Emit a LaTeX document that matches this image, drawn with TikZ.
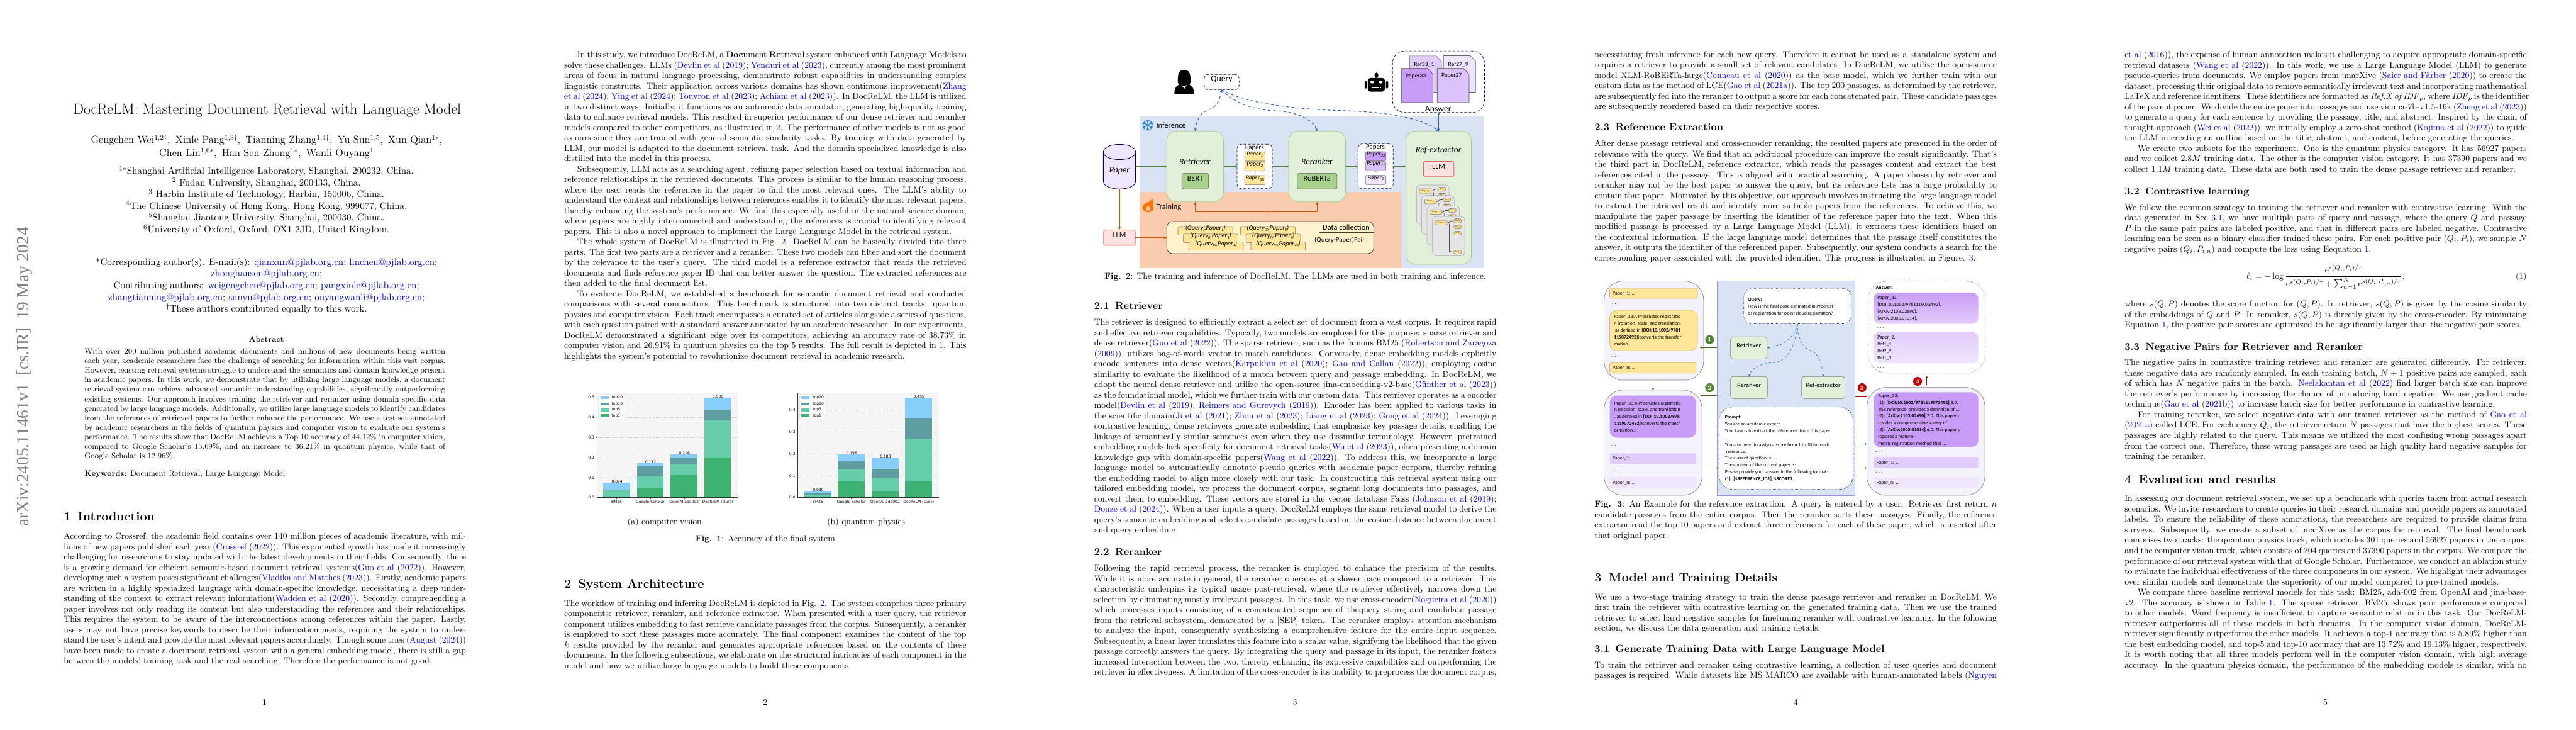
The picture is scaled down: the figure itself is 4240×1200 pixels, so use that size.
\documentclass[tikz,border=0pt]{standalone}
\usepackage{fontspec}
\usepackage{amsmath}
\usetikzlibrary{arrows.meta,fit,calc}
\newfontfamily\figfont{Carlito}
\newfontfamily\stampfont{Liberation Serif}
\newfontfamily\plotfont{DejaVu Sans}
\definecolor{lnk}{rgb}{0,0,.85}
\definecolor{infbg}{HTML}{DAE3F3}
\definecolor{trbg}{HTML}{F8CBAD}
\definecolor{gbox}{HTML}{E2F0D9}
\definecolor{gedge}{HTML}{A9D18E}
\definecolor{gdark}{HTML}{548235}
\definecolor{orng}{HTML}{C55A11}
\definecolor{bluea}{HTML}{2F5FB3}
\definecolor{yel}{HTML}{FFE699}
\definecolor{yelp}{HTML}{FFF2CC}
\definecolor{pk}{HTML}{FFE1E1}
\definecolor{pkedge}{HTML}{E06666}
\definecolor{pa}{HTML}{C99DF7}
\definecolor{pb}{HTML}{D9C3FA}
\definecolor{pc}{HTML}{E2CCFB}
\definecolor{pd}{HTML}{EFE6FD}
\definecolor{panel}{HTML}{F4F2FA}
\definecolor{cA}{HTML}{87CEFA}
\definecolor{cB}{HTML}{5F9EA0}
\definecolor{cC}{HTML}{66CDAA}
\definecolor{cD}{HTML}{3CB371}
\definecolor{plotbg}{HTML}{F5F5F5}
\definecolor{rd}{HTML}{C00000}
\hbadness=10000 \hfuzz=50pt \overfullrule=0pt
\newcommand\cb[1]{\textcolor{lnk}{#1}}
\newcommand\bodyfont{\fontsize{10}{12.03}\selectfont\hsize=466.2pt}
\newcommand\absfont{\fontsize{9}{11}\selectfont\hsize=418.3pt}
\newcommand\capfont{\fontsize{10}{12.03}\selectfont\hsize=466.2pt}
\newcommand\tjl[1]{\hbox to\hsize{#1}}
\newcommand\til[1]{\hbox to\hsize{\hskip15.2pt #1}}
\newcommand\tel[1]{\hbox{#1}}
\newcommand\tiel[1]{\hbox{\hskip15.2pt #1}}
\newcommand\tblk[5][\bodyfont]{\node[inner sep=0pt,outer sep=0pt,anchor=base west] (#2) at (#3,#4) {\vtop{#1\lineskiplimit=-\maxdimen #5}};}
\newcommand\ctr[5]{\node[inner sep=0pt,outer sep=0pt,anchor=base] (#1) at (#2,#3) {#4 #5};}
\newcommand\secf{\fontsize{14.4}{17}\selectfont\bfseries}
\newcommand\subf{\fontsize{12}{14}\selectfont\bfseries}
\newcommand\sect[4]{\node[inner sep=0pt,outer sep=0pt,anchor=base west] (#1) at (#2,#3) {\secf #4};}
\newcommand\snum[1]{\makebox[16.2pt][l]{#1}}
\newcommand\ssn[1]{\makebox[24.2pt][l]{#1}}
\newcommand\subs[4]{\node[inner sep=0pt,outer sep=0pt,anchor=base west] (#1) at (#2,#3) {\subf #4};}
% figure helpers
\newcommand\bx[7][]{\node[inner sep=0pt,outer sep=0pt,fit={(#3,#4)(#5,#6)},#1] (#2) {#7};}
\newcommand\ftblk[6]{\node[inner sep=0pt,outer sep=0pt,anchor=base west] (#1) at (#2,#3) {\vtop{\hsize=300pt\figfont\fontsize{#4}{#5}\selectfont\lineskiplimit=-\maxdimen #6}};}
\newcommand\pp[2][7]{{\figfont\itshape\fontsize{#1}{8}\selectfont Paper\raisebox{-1.2pt}{\fontsize{4.6}{5}\selectfont #2}}}
\newcommand\qq[2]{{\figfont\itshape\fontsize{7.6}{8}\selectfont (Query\raisebox{-1.2pt}{\fontsize{4.6}{5}\selectfont #1},Paper\raisebox{-1.2pt}{\fontsize{4.6}{5}\selectfont #2})}}
\newcommand\docsh[6]{\draw[draw=#6,fill=#5,line width=.5pt] (#1,#2) -- (#3-16,#2) -- (#3,#2+28) -- (#3,#4) -- (#1,#4) -- cycle;}
\tikzset{
 page/.style={x=0.7042pt,y=-0.7042pt},
 figA/.style={shift={(848,600)},x=0.38085pt,y=-0.2695pt},
 figB/.style={shift={(1696,0)},x=0.38085pt,y=-0.23473pt},
 figC/.style={shift={(2544,400)},x=0.38085pt,y=-0.23473pt},
 grn/.style={fill=gbox,draw=gedge,line width=.6pt,rounded corners=11pt},
 inner/.style={fill=gedge,draw=black!65,line width=.5pt,rounded corners=2pt},
 pinkb/.style={fill=pk,draw=pkedge,line width=.7pt,rounded corners=2pt},
 dashb/.style={fill=white,draw=black!70!blue,densely dashed,line width=.5pt,rounded corners=5pt},
 smallp/.style={draw=black!55,line width=.4pt,rounded corners=1.2pt},
 garrow/.style={draw=gdark,line width=1pt,-{Stealth[length=3pt,width=3pt]}},
 oarrow/.style={draw=orng,line width=.9pt,-{Stealth[length=4pt,width=3.4pt]}},
 bdash/.style={draw=bluea,dashed,line width=.8pt,-{Stealth[length=3pt,width=3pt]}},
 plab/.style={inner sep=0pt,font=\plotfont\fontsize{4.4}{5}\selectfont},
 pan/.style={fill=panel,draw=black!50,line width=.5pt,rounded corners=22pt},
 tx/.style={inner sep=0pt,outer sep=0pt,text=black},
 numc/.style={circle,inner sep=0pt,minimum size=10.3pt,text=white,font=\fontsize{7}{8}\selectfont\bfseries},
}
\begin{document}
\begin{tikzpicture}[page]
\useasboundingbox (0,0) rectangle (4240,1200);
\fill[white] (0,0) rectangle (4240,1200);

%%%%%%%%%%%%%%%%%%%%%%  PAGE 1
\node[inner sep=0pt,anchor=base west,rotate=90,text=black!50] (stamp) at (47.6,866.7) {\stampfont\fontsize{20}{24}\selectfont arXiv:2405.11461v1\hskip10pt [cs.IR]\hskip10pt 19 May 2024};
\ctr{title}{436}{187.8}{\fontsize{17.28}{20}\selectfont}{DocReLM: Mastering Document Retrieval with Language Model}
\ctr{auth1}{436}{236}{\fontsize{12}{14}\selectfont}{Gengchen Wei$^{1,2\dagger}$,\hskip6pt Xinle Pang$^{1,3\dagger}$,\hskip6pt Tianning Zhang$^{1,4\dagger}$,\hskip6pt Yu Sun$^{1,5}$,\hskip6pt Xun Qian$^{1*}$,}
\ctr{auth2}{436}{257.4}{\fontsize{12}{14}\selectfont}{Chen Lin$^{1,6*}$,\hskip6pt Han-Sen Zhong$^{1*}$,\hskip6pt Wanli Ouyang$^{1}$}
\ctr{af1}{436}{286.3}{\fontsize{10.95}{13}\selectfont}{$^{1*}$Shanghai Artificial Intelligence Laboratory, Shanghai, 200232, China.}
\ctr{af2}{436}{305.7}{\fontsize{10.95}{13}\selectfont}{$^{2}$ Fudan University, Shanghai, 200433, China.}
\ctr{af3}{436}{324.9}{\fontsize{10.95}{13}\selectfont}{$^{3}$ Harbin Institute of Technology, Harbin, 150006, China.}
\ctr{af4}{436}{344}{\fontsize{10.95}{13}\selectfont}{$^{4}$The Chinese University of Hong Kong, Hong Kong, 999077, China.}
\ctr{af5}{436}{363.2}{\fontsize{10.95}{13}\selectfont}{$^{5}$Shanghai Jiaotong University, Shanghai, 200030, China.}
\ctr{af6}{436}{382.6}{\fontsize{10.95}{13}\selectfont}{$^{6}$University of Oxford, Oxford, OX1 2JD, United Kingdom.}
\ctr{em1}{436}{436}{\fontsize{10.95}{13}\selectfont}{*Corresponding author(s). E-mail(s): \cb{qianxun@pjlab.org.cn}; \cb{linchen@pjlab.org.cn};}
\ctr{em2}{436}{455.3}{\fontsize{10.95}{13}\selectfont}{\cb{zhonghansen@pjlab.org.cn};}
\ctr{em3}{436}{474.5}{\fontsize{10.95}{13}\selectfont}{Contributing authors: \cb{weigengchen@pjlab.org.cn}; \cb{pangxinle@pjlab.org.cn};}
\ctr{em4}{436}{493.8}{\fontsize{10.95}{13}\selectfont}{\cb{zhangtianning@pjlab.org.cn}; \cb{sunyu@pjlab.org.cn}; \cb{ouyangwanli@pjlab.org.cn};}
\ctr{em5}{436}{513}{\fontsize{10.95}{13}\selectfont}{$^{\dagger}$These authors contributed equally to this work.}
\ctr{abst}{436}{562.3}{\fontsize{9}{11}\selectfont\bfseries}{Abstract}
\tblk[\absfont]{absb}{139}{582.4}{%
\tjl{With over 200 million published academic documents and millions of new documents being written}
\tjl{each year, academic researchers face the challenge of searching for information within this vast corpus.}
\tjl{However, existing retrieval systems struggle to understand the semantics and domain knowledge present}
\tjl{in academic papers. In this work, we demonstrate that by utilizing large language models, a document}
\tjl{retrieval system can achieve advanced semantic understanding capabilities, significantly outperforming}
\tjl{existing systems. Our approach involves training the retriever and reranker using domain-specific data}
\tjl{generated by large language models. Additionally, we utilize large language models to identify candidates}
\tjl{from the references of retrieved papers to further enhance the performance. We use a test set annotated}
\tjl{by academic researchers in the fields of quantum physics and computer vision to evaluate our system's}
\tjl{performance. The results show that DocReLM achieves a Top 10 accuracy of 44.12\% in computer vision,}
\tjl{compared to Google Scholar's 15.69\%, and an increase to 36.21\% in quantum physics, while that of}
\tel{Google Scholar is 12.96\%.}}
\tblk[\absfont]{kw}{139}{783}{\tel{\textbf{Keywords:} Document Retrieval, Large Language Model}}
\sect{s1}{105}{856.4}{\snum{1}Introduction}
\tblk{intro}{105}{887}{%
\tjl{According to Crossref, the academic field contains over 140 million pieces of academic literature, with mil-}
\tjl{lions of new papers published each year (\cb{Crossref} (\cb{2022})). This exponential growth has made it increasingly}
\tjl{challenging for researchers to stay updated with the latest developments in their fields. Consequently, there}
\tjl{is a growing demand for efficient semantic-based document retrieval systems(\cb{Guo et al} (\cb{2022})). However,}
\tjl{developing such a system poses significant challenges(\cb{Vladika and Matthes} (\cb{2023})). Firstly, academic papers}
\tjl{are written in a highly specialized language with domain-specific knowledge, necessitating a deep under-}
\tjl{standing of the context to extract relevant information(\cb{Wadden et al} (\cb{2020})). Secondly, comprehending a}
\tjl{paper involves not only reading its content but also understanding the references and their relationships.}
\tjl{This requires the system to be aware of the interconnections among references within the paper. Lastly,}
\tjl{users may not have precise keywords to describe their information needs, requiring the system to under-}
\tjl{stand the user's intent and provide the most relevant papers accordingly. Though some tries (\cb{August} (\cb{2024}))}
\tjl{have been made to create a document retrieval system with a general embedding model, there is still a gap}
\tel{between the models' training task and the real searching. Therefore the performance is not good.}}
\ctr{pn1}{435.4}{1159.5}{\bodyfont}{1}

%%%%%%%%%%%%%%%%%%%%%%  PAGE 2
\tblk{p2a}{928.6}{94.9}{%
\til{In this study, we introduce DocReLM, a \textbf{Doc}ument \textbf{Re}trieval system enhanced with \textbf{L}anguage \textbf{M}odels to}
\tjl{solve these challenges. LLMs (\cb{Devlin et al} (\cb{2019}); \cb{Yenduri et al} (\cb{2023}), currently among the most prominent}
\tjl{areas of focus in natural language processing, demonstrate robust capabilities in understanding complex}
\tjl{linguistic constructs. Their application across various domains has shown continuous improvement(\cb{Zhang}}
\tjl{\cb{et al} (\cb{2024}); \cb{Ying et al} (\cb{2024}); \cb{Touvron et al} (\cb{2023}); \cb{Achiam et al} (\cb{2023})). In DocReLM, the LLM is utilized}
\tjl{in two distinct ways. Initially, it functions as an automatic data annotator, generating high-quality training}
\tjl{data to enhance retrieval models. This resulted in superior performance of our dense retriever and reranker}
\tjl{models compared to other competitors, as illustrated in \cb{2}. The performance of other models is not as good}
\tjl{as ours since they are trained with general semantic similarity tasks. By training with data generated by}
\tjl{LLM, our model is adapted to the document retrieval task. And the domain specialized knowledge is also}
\tel{distilled into the model in this process.}
\til{Subsequently, LLM acts as a searching agent, refining paper selection based on textual information and}
\tjl{reference relationships in the retrieved documents. This process is similar to the human reasoning process,}
\tjl{where the user reads the references in the paper to find the most relevant ones. The LLM's ability to}
\tjl{understand the context and relationships between references enables it to identify the most relevant papers,}
\tjl{thereby enhancing the system's performance. We find this especially useful in the natural science domain,}
\tjl{where papers are highly interconnected and understanding the references is crucial to identifying relevant}
\tel{papers. This is also a novel approach to implement the Large Language Model in the retrieval system.}
\til{The whole system of DocReLM is illustrated in Fig. \cb{2}. DocReLM can be basically divided into three}
\tjl{parts. The first two parts are a retriever and a reranker. These two models can filter and sort the document}
\tjl{by the relevance to the user's query. The third model is a reference extractor that reads the retrieved}
\tjl{documents and finds reference paper ID that can better answer the question. The extracted references are}
\tel{then added to the final document list.}
\til{To evaluate DocReLM, we established a benchmark for semantic document retrieval and conducted}
\tjl{comparisons with several competitors. This benchmark is structured into two distinct tracks: quantum}
\tjl{physics and computer vision. Each track encompasses a curated set of articles alongside a series of questions,}
\tjl{with each question paired with a standard answer annotated by an academic researcher. In our experiments,}
\tjl{DocReLM demonstrated a significant edge over its competitors, achieving an accuracy rate of 38.73\% in}
\tjl{computer vision and 26.91\% in quantum physics on the top 5 results. The full result is depicted in \cb{1}. This}
\tel{highlights the system's potential to revolutionize document retrieval in academic research.}}

% Figure 1 -- two stacked bar charts
\begin{scope}[figA]
\foreach \ox/\ticks in {0/{0.1/485.5,0.2/399.5,0.3/313.5,0.4/227.5,0.5/141},612/{0.1/477,0.2/382.5,0.3/288,0.4/194}}{
  \fill[plotbg] (\ox+248,120) rectangle (\ox+677,571);
  \foreach \l/\yy in \ticks {
    \draw[black!22,densely dotted,line width=.35pt] (\ox+248,\yy) -- (\ox+677,\yy);
    \draw[black!70,line width=.3pt] (\ox+244,\yy) -- (\ox+248,\yy);
    \node[plab,anchor=east] at (\ox+241,\yy) {\l};
  }
  \node[plab,anchor=east] at (\ox+241,571) {0.0};
}
\newcommand\stackbar[6]{%
 \fill[cD] (#1,571) rectangle (#1+82,#2);
 \fill[cC] (#1,#2) rectangle (#1+82,#3);
 \fill[cB] (#1,#3) rectangle (#1+82,#4);
 \fill[cA] (#1,#4) rectangle (#1+82,#5);
 \draw[black!70,line width=.3pt] (#1+41,571) -- (#1+41,576);
 \node[plab] at (#1+42,#5-5) {#6};
}
\stackbar{268}{566}{540}{537}{507}{0.074}
\stackbar{370}{528}{479}{436}{423}{0.172}
\stackbar{473}{475}{429}{398}{385}{0.216}
\stackbar{575}{398}{238}{192}{141}{0.500}
\stackbar{880}{565}{558}{552}{543}{0.030}
\stackbar{982}{502}{449}{414}{386}{0.196}
\stackbar{1085}{546}{487}{446}{398}{0.183}
\stackbar{1187}{502}{317}{229}{141}{0.455}
\foreach \ox in {0,612}{
  \draw[black!80,line width=.4pt] (\ox+248,120) -- (\ox+248,571) -- (\ox+677,571);
  \foreach \cx/\l in {309/BM25,411/Google Scholar,514/OpenAI ada002,616/DocReLM (Ours)}
    \node[plab] at (\ox+\cx,590) {\l};
  \draw[fill=white,draw=black!15,line width=.3pt,rounded corners=1pt] (\ox+254,128) rectangle (\ox+333,235);
  \foreach \yy/\cc/\l in {142/cA/top20,168/cB/top10,194/cC/top5,219/cD/top1}{
    \fill[\cc] (\ox+259,\yy-6) rectangle (\ox+284,\yy+6);
    \node[plab,anchor=west] at (\ox+293,\yy) {\l};
  }
}
\ctr{sa}{455}{688}{\bodyfont}{(a) computer vision}
\ctr{sb}{1068}{688}{\bodyfont}{(b) quantum physics}
\ctr{f1c}{761}{760}{\bodyfont}{\textbf{Fig. 1}: Accuracy of the final system}
\end{scope}
\sect{s2}{928.6}{967.4}{\snum{2}System Architecture}
\tblk{p2b}{928.6}{997.2}{%
\tjl{The workflow of training and inferring DocReLM is depicted in Fig. \cb{2}. The system comprises three primary}
\tjl{components: retriever, reranker, and reference extractor. When presented with a user query, the retriever}
\tjl{component utilizes embedding to fast retrieve candidate passages from the corpus. Subsequently, a reranker}
\tjl{is employed to sort these passages more accurately. The final component examines the content of the top}
\tjl{$k$ results provided by the reranker and generates appropriate references based on the contents of these}
\tjl{documents. In the following subsections, we elaborate on the structural intricacies of each component in the}
\tel{model and how we utilize large language models to build these components.}}
\ctr{pn2}{1259.6}{1159.5}{\bodyfont}{2}

%%%%%%%%%%%%%%%%%%%%%%  PAGE 3 : Figure 2
\begin{scope}[figB]
\fill[infbg] (333,576) rectangle (1382,1322);
\fill[trbg] (333,948) rectangle (1129,1322);
% snowflake
\begin{scope}[shift={(357,618)}]
 \foreach \a in {0,60,120,180,240,300}{
  \begin{scope}[x=0.7042pt,y=0.7042pt,rotate=\a]
  \draw[draw=cyan!60!blue!90,line width=1pt] (0,0) -- (0,9) (0,5.5) -- (2.8,8.3) (0,5.5) -- (-2.8,8.3);
  \end{scope}
 }
\end{scope}
\node[tx,anchor=west] (infl) at (383,620) {\figfont\fontsize{9}{10}\selectfont Inference};
% flame
\fill[orange!90!red] (358,1047) .. controls (335,1045) and (338,1012) .. (350,1004) .. controls (358,997) and (368,992) .. (371,980) .. controls (376,1000) and (370,1010) .. (375,1030) .. controls (375,1040) and (368,1047) .. (358,1047) -- cycle;
\fill[trbg] (358,1040) .. controls (350,1038) and (350,1025) .. (358,1015) .. controls (366,1025) and (367,1038) .. (358,1040) -- cycle;
\node[tx,anchor=west] (trl) at (383,1022) {\figfont\fontsize{9}{10}\selectfont Training};
% green blocks
\bx[grn]{retr}{415}{647}{588}{996}{}
\bx[grn]{rr}{786}{647}{959}{996}{}
\bx[grn]{refx}{1143}{647}{1342}{1304}{}
\node[tx] (retrl) at (501,797) {\figfont\itshape\fontsize{10}{11}\selectfont Retriever};
\node[tx] (rrl) at (872,797) {\figfont\itshape\fontsize{10}{11}\selectfont Reranker};
\node[tx] (refl) at (1242,740) {\figfont\itshape\fontsize{10}{11}\selectfont Ref-extractor};
\bx[inner]{bert}{461}{856}{542}{932}{\figfont\fontsize{9}{10}\selectfont BERT}
\bx[inner]{rob}{812}{856}{933}{932}{\figfont\fontsize{9}{10}\selectfont RoBERTa}
\bx[pinkb]{llmb}{1196}{797}{1289}{872}{\figfont\fontsize{9}{10}\selectfont LLM}
% papers lists
\bx[dashb]{pa1}{629}{712}{736}{931}{}
\node[tx] (pa1t) at (682,729) {\figfont\fontsize{8}{9}\selectfont Papers};
\bx[smallp,fill=yel]{p11}{652}{749}{714}{795}{\pp{1}}
\bx[smallp,fill=yel]{p12}{652}{798}{714}{844}{\pp{2}}
\node[tx] (p1d) at (682,851) {\figfont\fontsize{6}{7}\selectfont ...};
\bx[smallp,fill=yel]{p13}{652}{866}{714}{912}{\pp{50}}
\bx[dashb]{pa2}{997}{710}{1104}{931}{}
\node[tx] (pa2t) at (1050,727) {\figfont\fontsize{8}{9}\selectfont Papers};
\bx[smallp,fill=pa]{p21}{1020}{748}{1082}{794}{\pp{33}}
\bx[smallp,fill=pb]{p22}{1020}{796}{1082}{842}{\pp{27}}
\node[tx] (p2d) at (1050,849) {\figfont\fontsize{6}{7}\selectfont ...};
\bx[smallp,fill=pd]{p23}{1020}{865}{1082}{911}{\pp{1}}
% database cylinder
\bx{cyl}{222}{712}{320}{932}{}
\draw[fill=pd,draw=black!70!blue,line width=.6pt] (222,750) .. controls (222,700) and (320,700) .. (320,750) -- (320,895) .. controls (320,945) and (222,945) .. (222,895) -- cycle;
\draw[draw=black!70!blue,line width=.6pt] (222,750) .. controls (222,800) and (320,800) .. (320,750);
\node[tx] (cylt) at (271,842) {\figfont\itshape\fontsize{10}{11}\selectfont Paper};
\bx[pinkb]{llma}{223}{1135}{319}{1211}{\figfont\fontsize{9}{10}\selectfont LLM}
% data collection
\bx[fill=yelp,draw=black!75,line width=.6pt,rounded corners=7pt]{data}{415}{1093}{1045}{1252}{}
\draw[black!75,line width=.6pt] (879,1093) -- (879,1146) -- (1045,1146);
\node[tx] (dct) at (961,1122) {\figfont\fontsize{9}{10}\selectfont Data collection};
\node[tx] (qpp) at (941,1185) {\figfont\fontsize{8}{9}\selectfont (Query-Paper)Pair};
\bx[smallp,fill=yel]{q1}{449}{1118}{616}{1160}{\qq{I}{1}}
\bx[smallp,fill=yel]{q4}{639}{1118}{806}{1160}{\qq{IX}{5}}
\bx[smallp,fill=yel]{q2}{465}{1155}{632}{1197}{\qq{II}{1}}
\bx[smallp,fill=yel]{q5}{656}{1155}{822}{1197}{\qq{IV}{7}}
\bx[smallp,fill=yel]{q3}{482}{1194}{648}{1235}{\qq{III}{1}}
\bx[smallp,fill=yel]{q6}{671}{1194}{837}{1235}{\qq{VI}{10}}
% stacked cards
\foreach \i/\xx/\yy in {1/1175/913,2/1191/965,3/1207/1017,4/1223/1069}{
 \draw[fill=black!10,draw=black!35,line width=.4pt,rounded corners=4pt] (\xx,\yy) rectangle (\xx+99,\yy+193);
 \draw[smallp,fill=yel] (\xx+9,\yy+18) rectangle (\xx+45,\yy+41);
 \node[tx] (cp\i) at (\xx+27,\yy+30) {\fontsize{2.7}{3}\selectfont\itshape Paper\textsubscript{1}};
 \draw[black,line width=.35pt] (\xx+46,\yy+30) .. controls (\xx+51,\yy+30) and (\xx+51,\yy+28) .. (\xx+52,\yy+24) .. controls (\xx+53,\yy+22) and (\xx+58,\yy+21) .. (\xx+64,\yy+21);
 \draw[black,line width=.35pt] (\xx+52,\yy+36) -- (\xx+52,\yy+172) -- (\xx+64,\yy+175);
 \foreach \j/\ya/\yb in {1/11/31,2/42/60,3/72/91,4/165/184}{
   \draw[smallp,fill=yel] (\xx+66,\yy+\ya) rectangle (\xx+88,\yy+\yb);
   \node[tx] (cr\i\j) at (\xx+77,\yy+\ya/2+\yb/2) {\fontsize{2.7}{3}\selectfont\itshape Ref\textsubscript{1}};
 }
 \foreach \dy in {116,126,136}{\fill (\xx+78,\yy+\dy) circle[radius=1.5];}
}
% person
\fill (468,345) .. controls (490,345) and (486,380) .. (488,405) -- (484,418) .. controls (494,425) and (498,440) .. (498,464) -- (438,464) .. controls (438,440) and (442,425) .. (452,418) -- (448,405) .. controls (450,380) and (446,345) .. (468,345) -- cycle;
\fill[white] (459,418) -- (468,438) -- (477,418) -- (472,424) -- (464,424) -- cycle;
% query
\bx[dashb]{query}{529}{367}{635}{443}{\figfont\fontsize{10}{11}\selectfont Query}
% robot
\fill (1053,372) circle[x radius=6,y radius=14];
\fill[rounded corners=3pt] (1027,385) rectangle (1079,452);
\fill[rounded corners=1pt] (1017,400) rectangle (1024,437);
\fill[rounded corners=1pt] (1082,400) rectangle (1089,437);
\fill[white] (1040,405) circle[x radius=6,y radius=7];
\fill[white] (1066,405) circle[x radius=6,y radius=7];
\fill[white] (1038,428) rectangle (1068,436);
\foreach \mx in {1046,1054,1062}{\fill (\mx-1,426) rectangle (\mx+1,438);}
% answer
\bx[dashb,rounded corners=14pt]{ans}{1102}{252}{1382}{555}{}
\docsh{1154}{276}{1251}{455}{pc}{black!60}
\docsh{1257}{275}{1355}{455}{pd}{black!60}
\docsh{1129}{338}{1225}{506}{pa}{black!70}
\docsh{1238}{338}{1335}{506}{pb}{black!70}
\node[tx] (at1) at (1198,318) {\figfont\fontsize{7}{8}\selectfont Ref33\_1};
\node[tx] (at2) at (1302,318) {\figfont\fontsize{7}{8}\selectfont Ref27\_9};
\node[tx] (at3) at (1173,375) {\figfont\fontsize{7}{8}\selectfont Paper33};
\node[tx] (at4) at (1282,374) {\figfont\fontsize{7}{8}\selectfont Paper27};
\node[tx] (at5) at (1241,537) {\figfont\fontsize{10}{11}\selectfont Answer};
% connectors
\draw[garrow] (cyl.east) -- (retr.west);
\draw[garrow] (retr.east) -- (pa1.west);
\draw[garrow] (pa1.east) -- (rr.west);
\draw[garrow] (rr.east) -- (pa2.west);
\draw[garrow] (pa2.east) -- (refx.west |- pa2.east);
\draw[oarrow] (cyl.south) -- (llma.north);
\draw[oarrow] (llma.east) -- (data.west |- llma.east);
\coordinate (jn) at (730,1045);
\draw[draw=orng,line width=.9pt] (data.north) -- (jn);
\draw[oarrow] (jn) -| (retr.south);
\draw[oarrow] (jn) -| (rr.south);
\draw[draw=bluea,line width=.7pt,{Stealth[length=3pt,width=3pt]}-{Stealth[length=3pt,width=3pt]}] (refx.north) -- (ans.south -| refx.north);
\coordinate (m1) at (535,547);
\coordinate (m2) at (750,547);
\coordinate (m3) at (950,546);
\draw[bdash,{Stealth[length=3pt,width=3pt]}-{Stealth[length=3pt,width=3pt]}] (query.south) .. controls (575,505) and (565,530) .. (m1) .. controls (515,560) and (505,600) .. (retr.north);
\draw[bdash] (query.south) .. controls (615,505) and (680,545) .. (m2) .. controls (810,552) and (860,590) .. (rr.north);
\draw[bdash] (query.south) .. controls (660,515) and (820,540) .. (m3) .. controls (1080,552) and (1190,580) .. (refx.north);
\end{scope}
\ctr{f2c}{2132}{459.3}{\bodyfont}{\textbf{Fig. 2}: The training and inference of DocReLM. The LLMs are used in both training and inference.}

\subs{s21}{1801}{508.3}{\ssn{2.1}Retriever}
\tblk{p3a}{1801}{534.8}{%
\tjl{The retriever is designed to efficiently extract a select set of document from a vast corpus. It requires rapid}
\tjl{and effective retriever capabilities. Typically, two models are employed for this purpose: sparse retriever and}
\tjl{dense retriever(\cb{Guo et al} (\cb{2022})). The sparse retriever, such as the famous BM25 (\cb{Robertson and Zaragoza}}
\tjl{(\cb{2009})), utilizes bag-of-words vector to match candidates. Conversely, dense embedding models explicitly}
\tjl{encode sentences into dense vectors(\cb{Karpukhin et al} (\cb{2020}); \cb{Gao and Callan} (\cb{2022})), employing cosine}
\tjl{similarity to evaluate the likelihood of a match between query and passage embedding. In DocReLM, we}
\tjl{adopt the neural dense retriever and utilize the open-source jina-embedding-v2-base(\cb{Günther et al} (\cb{2023}))}
\tjl{as the foundational model, which we further train with our custom data. This retriever operates as a encoder}
\tjl{model(\cb{Devlin et al} (\cb{2019}); \cb{Reimers and Gurevych} (\cb{2019})). Encoder has been applied to various tasks in}
\tjl{the scientific domain(\cb{Ji et al} (\cb{2021}); \cb{Zhou et al} (\cb{2023}); \cb{Liang et al} (\cb{2023}); \cb{Gong et al} (\cb{2024})). Leveraging}
\tjl{contrastive learning, dense retrievers generate embedding that emphasize key passage details, enabling the}
\tjl{linkage of semantically similar sentences even when they use dissimilar terminology. However, pretrained}
\tjl{embedding models lack specificity for document retrieval tasks(\cb{Wu et al} (\cb{2023})), often presenting a domain}
\tjl{knowledge gap with domain-specific papers(\cb{Wang et al} (\cb{2022})). To address this, we incorporate a large}
\tjl{language model to automatically annotate pseudo queries with academic paper corpora, thereby refining}
\tjl{the embedding model to align more closely with our task. In constructing this retrieval system using our}
\tjl{tailored embedding model, we process the document corpus, segment long documents into passages, and}
\tjl{convert them to embedding. These vectors are stored in the vector database Faiss (\cb{Johnson et al} (\cb{2019});}
\tjl{\cb{Douze et al} (\cb{2024})). When a user inputs a query, DocReLM employs the same retrieval model to derive the}
\tjl{query's semantic embedding and selects candidate passages based on the cosine distance between document}
\tel{and query embedding.}}
\subs{s22}{1801}{913.4}{\ssn{2.2}Reranker}
\tblk{p3b}{1801}{939.7}{%
\tjl{Following the rapid retrieval process, the reranker is employed to enhance the precision of the results.}
\tjl{While it is more accurate in general, the reranker operates at a slower pace compared to a retriever. This}
\tjl{characteristic underpins its typical usage post-retrieval, where the retriever effectively narrows down the}
\tjl{selection by eliminating mostly irrelevant passages. In this task, we use cross-encoder(\cb{Nogueira et al} (\cb{2020}))}
\tjl{which processes inputs consisting of a concatenated sequence of thequery string and candidate passage}
\tjl{from the retrieval subsystem, demarcated by a [SEP] token. The reranker employs attention mechanism}
\tjl{to analyze the input, consequently synthesizing a comprehensive feature for the entire input sequence.}
\tjl{Subsequently, a linear layer translates this feature into a scalar value, signifying the likelihood that the given}
\tjl{passage correctly answers the query. By integrating the query and passage in its input, the reranker fosters}
\tjl{increased interaction between the two, thereby enhancing its expressive capabilities and outperforming the}
\tjl{retriever in effectiveness. A limitation of the cross-encoder is its inability to preprocess the document corpus,}}
\ctr{pn3}{2131.4}{1159.5}{\bodyfont}{3}

%%%%%%%%%%%%%%%%%%%%%%  PAGE 4
\tblk{p4a}{2624.6}{94.3}{%
\tjl{necessitating fresh inference for each new query. Therefore it cannot be used as a standalone system and}
\tjl{requires a retriever to provide a small set of relevant candidates. In DocReLM, we utilize the open-source}
\tjl{model XLM-RoBERTa-large(\cb{Conneau et al} (\cb{2020})) as the base model, which we further train with our}
\tjl{custom data as the method of LCE(\cb{Gao et al} (\cb{2021a})). The top 200 passages, as determined by the retriever,}
\tjl{are subsequently fed into the reranker to output a score for each concatenated pair. These candidate passages}
\tel{are subsequently reordered based on their respective scores.}}
\subs{s23}{2624.6}{215}{\ssn{2.3}Reference Extraction}
\tblk{p4b}{2624.6}{240.7}{%
\tjl{After dense passage retrieval and cross-encoder reranking, the resulted papers are presented in the order of}
\tjl{relevance with the query. We find that an additional procedure can improve the result significantly. That's}
\tjl{the third part in DocReLM, reference extractor, which reads the passages content and extract the best}
\tjl{references cited in the passage. This is aligned with practical searching. A paper chosen by retriever and}
\tjl{reranker may not be the best paper to answer the query, but its reference lists has a large probability to}
\tjl{contain that paper. Motivated by this objective, our approach involves instructing the large language model}
\tjl{to extract the retrieved result and identify more suitable papers from the references. To achieve this, we}
\tjl{manipulate the paper passage by inserting the identifier of the reference paper into the text. When this}
\tjl{modified passage is processed by a Large Language Model (LLM), it extracts these identifiers based on}
\tjl{the contextual information. If the large language model determines that the passage itself constitutes the}
\tjl{answer, it outputs the identifier of the referenced paper. Subsequently, our system conducts a search for the}
\tel{corresponding paper associated with the provided identifier. This progress is illustrated in Figure. \cb{3}.}}

% Figure 3
\begin{scope}[figC]
\bx[fill=infbg,draw=black!30!blue!40,line width=.7pt]{cp}{522}{187}{942}{1244}{}
\bx[pan]{lt}{178}{187}{481}{676}{}
\bx[pan]{lb}{178}{725}{476}{1244}{}
\bx[pan]{rb}{978}{712}{1337}{1244}{}
\bx[fill=white,draw=black!55,densely dotted,line width=.5pt,rounded corners=22pt]{rt}{981}{187}{1338}{641}{}
% left top
\bx[fill=yel,draw=yel!80!black,line width=.4pt,rounded corners=1.5pt]{a1}{195}{223}{462}{272}{}
\node[tx,anchor=base west] (a1t) at (204,254) {\figfont\fontsize{5.7}{7}\selectfont Paper\_1: ...};
\node[tx] (d1) at (212,299) {\figfont\fontsize{5.7}{7}\selectfont . . .};
\bx[fill=yel,draw=yel!80!black,line width=.4pt,rounded corners=8pt]{a2}{195}{331}{462}{530}{}
\ftblk{a2t}{208}{371}{5.7}{7.9}{\tel{Paper\_33:A Procrustes registratio}\tel{n (rotation, scale, and translation,}\tel{ as defined in \textbf{[DOI:10.1002/9781}}\tel{\textbf{119072492]})converts the transfor}\tel{mation...}}
\node[tx] (d2) at (212,560) {\figfont\fontsize{5.7}{7}\selectfont . . .};
\bx[fill=yel,draw=yel!80!black,line width=.4pt,rounded corners=1.5pt]{a3}{195}{590}{458}{640}{}
\node[tx,anchor=base west] (a3t) at (204,622) {\figfont\fontsize{5.7}{7}\selectfont Paper\_n: ...};
% left bottom
\bx[fill=pa,rounded corners=8pt]{b1}{195}{752}{458}{960}{}
\ftblk{b1t}{209}{797}{5.7}{7.9}{\tel{Paper\_33:A Procrustes registratio}\tel{n (rotation, scale, and translation}\tel{, as defined in \textbf{[DOI:10.1002/978}}\tel{\textbf{1119072492]})converts the transf}\tel{ormation...}}
\node[tx] (d3) at (212,998) {\figfont\fontsize{5.7}{7}\selectfont . . .};
\bx[fill=pc,rounded corners=1.5pt]{b2}{195}{1037}{458}{1088}{}
\node[tx,anchor=base west] (b2t) at (204,1070) {\figfont\fontsize{5.7}{7}\selectfont Paper\_1: ...};
\node[tx] (d4) at (212,1126) {\figfont\fontsize{5.7}{7}\selectfont . . .};
\bx[fill=pd,rounded corners=1.5pt]{b3}{195}{1153}{458}{1208}{}
\node[tx,anchor=base west] (b3t) at (204,1189) {\figfont\fontsize{5.7}{7}\selectfont Paper\_n: ...};
% centre
\bx[fill=white,draw=black!70!blue,densely dotted,line width=.5pt,rounded corners=10pt]{qb}{603}{223}{930}{398}{}
\ftblk{qbt}{616}{286}{5.7}{7.9}{\tel{\textbf{Query:}}\tel{How is the final pose estimated in Procrust}\tel{es registration for point cloud registration?}}
\tikzset{g3/.style={fill=gbox,draw=black!50,line width=.5pt,rounded corners=3pt}}
\bx[g3]{ret3}{563}{462}{674}{572}{\figfont\fontsize{7.6}{9}\selectfont Retriever}
\bx[g3]{rr3}{563}{658}{675}{767}{\figfont\fontsize{7.6}{9}\selectfont Reranker}
\bx[g3]{rx3}{779}{658}{911}{767}{\figfont\fontsize{7.6}{9}\selectfont Ref-extractor}
\bx[fill=white,draw=black!70!blue,densely dotted,line width=.5pt,rounded corners=16pt]{pr}{528}{808}{936}{1215}{}
\ftblk{prt}{546}{868}{5.7}{7.9}{\tel{\textbf{Prompt:}}\tel{You are an academic expert....}\tel{Your task is to extract the references\ \ from this paper}\tel{...}\tel{You also need to assign a score from 1 to 10 for each}\tel{\ reference.}\tel{The current question is: ...}\tel{The content of the current paper is: ...}\tel{Please provide your answer in the following format:}\tel{\textbf{(1): [\$REFERENCE\_ID1], \$SCORE1.}}}
% right top
\node[tx,anchor=base west] (ans3) at (1005,228) {\figfont\fontsize{5.7}{7}\selectfont\bfseries Answer:};
\bx[top color=pa,bottom color=pc,rounded corners=7pt]{c1}{998}{244}{1317}{398}{}
\ftblk{c1t}{1010}{278}{5.7}{7.9}{\tel{Paper\_33,}\tel{[DOI:10.1002/9781119072492],}\tel{[ArXiv:2103.02690],}\tel{[ArXiv:2005.01014],}}
\node[tx] (d5) at (1020,419) {\figfont\fontsize{5.7}{7}\selectfont . . .};
\bx[top color=pc,bottom color=pd,rounded corners=7pt]{c2}{998}{439}{1317}{593}{}
\ftblk{c2t}{1010}{473}{5.7}{7.9}{\tel{Paper\_2,}\tel{Ref1\_1,}\tel{Ref2\_2,}\tel{Ref1\_3}}
\node[tx] (d6) at (1020,613) {\figfont\fontsize{5.7}{7}\selectfont . . .};
% right bottom
\bx[fill=pa,rounded corners=8pt]{e1}{998}{736}{1317}{1006}{}
\ftblk{e1t}{1012}{761}{5.7}{7.9}{\tel{Paper\_33:}\tel{(1): \textbf{[DOI:10.1002/9781119072492]},8.0.}\tel{This reference\ \ provides a definition of ...}\tel{(2): \textbf{[ArXiv:2103.02690]},7.0. This paper p}\tel{rovides a comprehensive survey of ...}\tel{(3): \textbf{[ArXiv:2005.01014]},6.0. This paper p}\tel{roposes a feature-}\tel{metric registration method that ...}}
\node[tx] (d7) at (1015,1031) {\figfont\fontsize{5.7}{7}\selectfont . . .};
\bx[fill=pc,rounded corners=1.5pt]{e2}{998}{1055}{1317}{1107}{}
\node[tx,anchor=base west] (e2t) at (1007,1089) {\figfont\fontsize{5.7}{7}\selectfont Paper\_1: ...};
\node[tx] (d8) at (1015,1131) {\figfont\fontsize{5.7}{7}\selectfont . . .};
\bx[fill=pd,rounded corners=1.5pt]{e3}{998}{1156}{1317}{1208}{}
\node[tx,anchor=base west] (e3t) at (1007,1189) {\figfont\fontsize{5.7}{7}\selectfont Paper\_n: ...};
% numbered circles
\node[numc,fill=gdark] (n1) at (499,476) {1};
\node[numc,fill=gdark] (n2) at (499,713) {2};
\node[numc,fill=rd] (n3) at (963,713) {3};
\node[numc,fill=rd] (n4) at (1132,682) {4};
% connectors
\tikzset{g3a/.style={draw=gdark!80!black,line width=.8pt,-{Stealth[length=2.5pt,width=2.5pt]}},r3a/.style={draw=rd,line width=.6pt,-{Stealth[length=2.5pt,width=2.5pt]}},b3a/.style={draw=bluea!80!cyan,densely dashed,line width=.5pt,-{Stealth[length=2.5pt,width=2.5pt]}}}
\coordinate (t1) at (470,516);
\coordinate (t2) at (470,752);
\draw[g3a] (cp.west |- t1) -- (t1);
\draw[g3a] (cp.west |- t2) -- (t2);
\coordinate (t3) at (978,757);
\draw[r3a] (cp.east |- t3) -- (t3);
\coordinate (t4a) at (1160,702);
\coordinate (t4b) at (1160,655);
\draw[r3a] (t4a) -- (t4b);
\draw[draw=gdark!80!black,line width=.5pt,-{Stealth[length=2.5pt,width=2.5pt]}] (lb.north |- lt.south) -- (lb.north);
\coordinate (t5) at (528,1109);
\draw[g3a,line width=.5pt] (lb.east |- t5) -- (t5);
\coordinate (t6) at (978,1109);
\draw[g3a,line width=.5pt] (pr.east |- t6) -- (t6);
\coordinate (t7) at (978,991);
\draw[b3a] (pr.east |- t7) -- (t7);
\coordinate (k1) at (690,590);
\coordinate (k2) at (815,535);
\draw[b3a] (qb.south) .. controls (760,450) and (735,505) .. (ret3.east);
\draw[b3a] (qb.south) .. controls (762,480) and (745,585) .. (k1) .. controls (650,595) and (625,620) .. (rr3.north);
\draw[b3a] (qb.south) .. controls (765,470) and (785,525) .. (k2) .. controls (835,560) and (843,610) .. (rx3.north);
\end{scope}
\tblk[\capfont]{f3c}{2624.6}{834.3}{\baselineskip=12.03pt%
\tjl{\textbf{Fig. 3}: An Example for the reference extraction. A query is entered by a user. Retriever first return $n$}
\tjl{candidate passages from the entire corpus. Then the reranker sorts these passages. Finally, the reference}
\tjl{extractor read the top 10 papers and extract three references for each of these paper, which is inserted after}
\tel{that original paper.}}
\sect{s3}{2624.6}{957.3}{\snum{3}Model and Training Details}
\tblk{p4c}{2624.6}{986.7}{%
\tjl{We use a two-stage training strategy to train the dense passage retriever and reranker in DocReLM. We}
\tjl{first train the retriever with contrastive learning on the generated training data. Then we use the trained}
\tjl{retriever to select hard negative samples for finetuning reranker with contrastive learning. In the following}
\tel{section, we discuss the data generation and training details.}}
\subs{s31}{2624.6}{1072.7}{\ssn{3.1}Generate Training Data with Large Language Model}
\tblk{p4d}{2624.6}{1098.3}{%
\tjl{To train the retriever and reranker using contrastive learning, a collection of user queries and document}
\tjl{passages is required. While datasets like MS MARCO are available with human-annotated labels (\cb{Nguyen}}}
\ctr{pn4}{2955.6}{1159.5}{\bodyfont}{4}

%%%%%%%%%%%%%%%%%%%%%%  PAGE 5
\tblk{p5a}{3497}{94.9}{%
\tjl{\cb{et al} (\cb{2016})), the expense of human annotation makes it challenging to acquire appropriate domain-specific}
\tjl{retrieval datasets (\cb{Wang et al} (\cb{2022})). In this work, we use a Large Language Model (LLM) to generate}
\tjl{pseudo-queries from documents. We employ papers from unarXive (\cb{Saier and Färber} (\cb{2020})) to create the}
\tjl{dataset, processing their original data to remove semantically irrelevant text and incorporating mathematical}
\tjl{LaTeX and reference identifiers. These identifiers are formatted as \textit{Ref.X of IDF}$_{p}$, where \textit{IDF}$_{p}$ is the identifier}
\tjl{of the parent paper. We divide the entire paper into passages and use vicuna-7b-v1.5-16k (\cb{Zheng et al} (\cb{2023}))}
\tjl{to generate a query for each sentence by providing the passage, title, and abstract. Inspired by the chain of}
\tjl{thought approach (\cb{Wei et al} (\cb{2022})), we initially employ a zero-shot method (\cb{Kojima et al} (\cb{2022})) to guide}
\tel{the LLM in creating an outline based on the title, abstract, and content, before generating the queries.}
\til{We create two subsets for the experiment. One is the quantum physics category. It has 56927 papers}
\tjl{and we collect 2.8$M$ training data. The other is the computer vision category. It has 37390 papers and we}
\tel{collect 1.1$M$ training data. These data are both used to train the dense passage retriever and reranker.}}
\subs{s32}{3497}{320.3}{\ssn{3.2}Contrastive learning}
\tblk{p5b}{3497}{346}{%
\tjl{We follow the common strategy to training the retriever and reranker with contrastive learning. With the}
\tjl{data generated in Sec \cb{3.1}, we have multiple pairs of query and passage, where the query $Q$ and passage}
\tjl{$P$ in the same pair pairs are labeled positive, and that in different pairs are labeled negative. Contrastive}
\tjl{learning can be seen as a binary classifier trained these pairs. For each positive pair $(Q_i, P_i)$, we sample $N$}
\tel{negative pairs $(Q_i, P_{i,n})$ and compute the loss using Eequation \cb{1}.}}
\node[inner sep=0pt,anchor=base] (eqn) at (3827.9,458.7) {\bodyfont$\displaystyle \ell_i = -\log\frac{\mathrm{e}^{s(Q_i,P_i)/\tau}}{\mathrm{e}^{s(Q_i,P_i)/\tau}+\sum_{n=1}^{N}\mathrm{e}^{s(Q_i,P_{i,n})/\tau}},$};
\node[inner sep=0pt,anchor=base east] (eqno) at (4159,458.7) {\bodyfont(1)};
\tblk{p5c}{3497}{505}{%
\tjl{where $s(Q,P)$ denotes the score function for $(Q,P)$. In retriever, $s(Q,P)$ is given by the cosine similarity}
\tjl{of the embeddings of $Q$ and $P$. In reranker, $s(Q,P)$ is directly given by the cross-encoder. By minimizing}
\tel{Equation \cb{1}, the positive pair scores are optimized to be significantly larger than the negative pair scores.}}
\subs{s33}{3497}{576}{\ssn{3.3}Negative Pairs for Retriever and Reranker}
\tblk{p5d}{3497}{601.4}{%
\tjl{The negative pairs in contrastive training retriever and reranker are generated differently. For retriever,}
\tjl{these negative data are randomly sampled. In each training batch, $N+1$ positive pairs are sampled, each}
\tjl{of which has $N$ negative pairs in the batch. \cb{Neelakantan et al} (\cb{2022}) find larger batch size can improve}
\tjl{the retriever's performance by increasing the chance of introducing hard negative. We use gradient cache}
\tel{technique(\cb{Gao et al} (\cb{2021b})) to increase batch size for better performance in contrastive learning.}
\til{For training reranker, we select negative data with our trained retriever as the method of \cb{Gao et al}}
\tjl{(\cb{2021a}) called LCE. For each query $Q_i$, the retriever return $N$ passages that have the highest scores. These}
\tjl{passages are highly related to the query. This means we utilized the most confusing wrong passages apart}
\tjl{from the correct one. Therefore, these wrong passages are used as high quality hard negative samples for}
\tel{training the reranker.}}
\sect{s4}{3497}{796}{\snum{4}Evaluation and results}
\tblk{p5e}{3497}{825}{%
\tjl{In assessing our document retrieval system, we set up a benchmark with queries taken from actual research}
\tjl{scenarios. We invite researchers to create queries in their research domains and provide papers as annotated}
\tjl{labels. To ensure the reliability of these annotations, the researchers are required to provide claims from}
\tjl{surveys. Subsequently, we create a subset of unarXive as the corpus for retrieval. The final benchmark}
\tjl{comprises two tracks: the quantum physics track, which includes 301 queries and 56927 papers in the corpus,}
\tjl{and the computer vision track, which consists of 204 queries and 37390 papers in the corpus. We compare the}
\tjl{performance of our retrieval system with that of Google Scholar. Furthermore, we conduct an ablation study}
\tjl{to evaluate the individual effectiveness of the three components in our system. We highlight their advantages}
\tel{over similar models and demonstrate the superiority of our model compared to pre-trained models.}
\til{We compare three baseline retrieval models for this task: BM25, ada-002 from OpenAI and jina-base-}
\tjl{v2. The accuracy is shown in Table \cb{1}. The sparse retriever, BM25, shows poor performance compared}
\tjl{to other models. Word frequency is insufficient to capture semantic relation in this task. Our DocReLM-}
\tjl{retriever outperforms all of these models in both domains. In the computer vision domain, DocReLM-}
\tjl{retriever significantly outperforms the other models. It achieves a top-1 accuracy that is 5.89\% higher than}
\tjl{the best embedding model, and top-5 and top-10 accuracy that are 13.72\% and 19.13\% higher, respectively.}
\tjl{It is worth noting that all three models perform well in the computer vision domain, with high average}
\tjl{accuracy. In the quantum physics domain, the performance of the embedding models is similar, with no}}
\ctr{pn5}{3827.4}{1159.5}{\bodyfont}{5}
\end{tikzpicture}
\end{document}
